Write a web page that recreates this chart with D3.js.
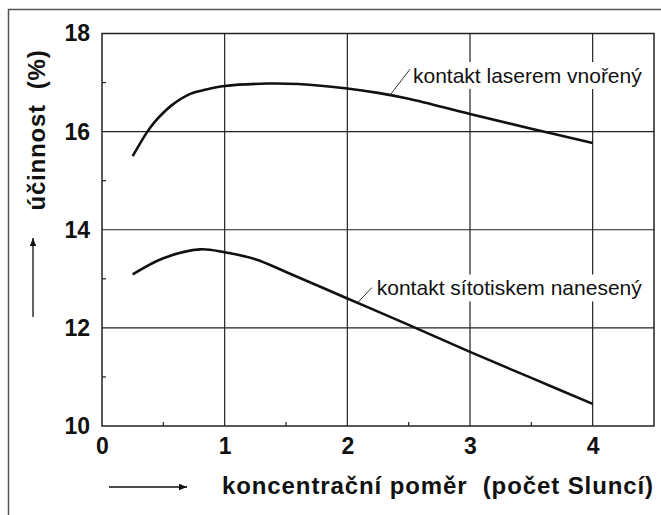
<!DOCTYPE html>
<html>
<head>
<meta charset="utf-8">
<script src="https://cdn.jsdelivr.net/npm/d3@7"></script>
<style>
  body { margin: 0; background: #fff; }
  svg { display: block; font-family: "Liberation Sans", Arial, sans-serif; }
</style>
</head>
<body>
<svg width="661" height="515"></svg>
<script>
// data
var concentration = [0.25, 0.37, 0.43, 0.57, 0.72, 0.85, 1.0, 1.35, 1.6, 2.0, 2.25, 2.5, 3.0, 3.5, 4.0];
var laserBuried   = [15.5, 16.0, 16.2, 16.54, 16.77, 16.86, 16.93, 16.98, 16.97, 16.88, 16.79, 16.67, 16.36, 16.06, 15.77];

var concentration2 = [0.25, 0.5, 0.8, 1.0, 1.25, 1.5, 2.0, 2.5, 3.0, 3.5, 4.0];
var screenPrinted  = [13.09, 13.42, 13.6, 13.54, 13.4, 13.14, 12.6, 12.06, 11.51, 10.98, 10.45];

var xTicks = [0, 1, 2, 3, 4];
var yTicks = [10, 12, 14, 16, 18];
var xMinor = [0.5, 1.5, 2.5, 3.5];
var yMinor = [11, 13, 15, 17];

var labels = ["kontakt laserem vnořený", "kontakt sítotiskem nanesený"];
var labelAt = [[2.535, 16.99], [2.24, 12.66]];
var leaders = [[[2.35, 16.75], [2.51, 17.27]], [[2.09, 12.53], [2.2, 12.82]]];

var svg = d3.select("svg");
var pLeft = 102, pRight = 654, pTop = 33.5, pBottom = 426;

var x = d3.scaleLinear().domain([0, 4.5]).range([pLeft, pRight]);
var y = d3.scaleLinear().domain([10, 18]).range([pBottom, pTop]);

// outer frame (runs off the picture on the right and bottom)
svg.append("rect")
  .attr("x", 8.5).attr("y", 9.5).attr("width", 700).attr("height", 600)
  .attr("fill", "none").attr("stroke", "#555").attr("stroke-width", 1.5);

// grid
svg.append("g").selectAll("line").data(xTicks.slice(1)).enter().append("line")
  .attr("x1", d => x(d)).attr("x2", d => x(d))
  .attr("y1", pTop).attr("y2", pBottom)
  .attr("stroke", "#222").attr("stroke-width", 1.2);
svg.append("g").selectAll("line").data(yTicks.slice(1, -1)).enter().append("line")
  .attr("x1", pLeft).attr("x2", pRight)
  .attr("y1", d => y(d)).attr("y2", d => y(d))
  .attr("stroke", "#222").attr("stroke-width", 1.2);

// minor ticks inside the frame
svg.append("g").selectAll("line").data(yMinor).enter().append("line")
  .attr("x1", pLeft).attr("x2", pLeft + 4)
  .attr("y1", d => y(d)).attr("y2", d => y(d))
  .attr("stroke", "#222").attr("stroke-width", 1.2);
svg.append("g").selectAll("line").data(xMinor).enter().append("line")
  .attr("x1", d => x(d)).attr("x2", d => x(d))
  .attr("y1", pBottom).attr("y2", pBottom - 4)
  .attr("stroke", "#222").attr("stroke-width", 1.2);

// plot frame
svg.append("rect")
  .attr("x", pLeft).attr("y", pTop).attr("width", pRight - pLeft).attr("height", pBottom - pTop)
  .attr("fill", "none").attr("stroke", "#222").attr("stroke-width", 1.5);

// axes (labels only)
var xAxis = svg.append("g")
  .attr("transform", "translate(0," + pBottom + ")")
  .call(d3.axisBottom(x).tickValues(xTicks).tickSize(0).tickPadding(12).tickFormat(d3.format("d")));
var yAxis = svg.append("g")
  .attr("transform", "translate(" + pLeft + ",0)")
  .call(d3.axisLeft(y).tickValues(yTicks).tickSize(0).tickPadding(12).tickFormat(d3.format("d")));
[xAxis, yAxis].forEach(function (g) {
  g.select(".domain").remove();
  g.selectAll("text")
    .attr("fill", "#111")
    .style("font-family", "'Liberation Sans', Arial, sans-serif")
    .style("font-size", "23px").style("font-weight", "bold");
});

// curves
var line = d3.line().curve(d3.curveCatmullRom.alpha(0.5))
  .x(d => x(d[0])).y(d => y(d[1]));
svg.append("path")
  .datum(d3.zip(concentration, laserBuried))
  .attr("d", line).attr("fill", "none").attr("stroke", "#111").attr("stroke-width", 2.6);
svg.append("path")
  .datum(d3.zip(concentration2, screenPrinted))
  .attr("d", line).attr("fill", "none").attr("stroke", "#111").attr("stroke-width", 2.6);

// curve labels on white boxes
labels.forEach(function (txt, i) {
  var g = svg.append("g");
  var t = g.append("text")
    .attr("x", x(labelAt[i][0])).attr("y", y(labelAt[i][1]))
    .attr("font-size", 21).attr("fill", "#111").text(txt);
  var b = t.node().getBBox();
  g.insert("rect", "text")
    .attr("x", b.x - 4).attr("y", b.y - 2).attr("width", b.width + 6).attr("height", b.height + 4)
    .attr("fill", "#fff");
  svg.append("line")
    .attr("x1", x(leaders[i][0][0])).attr("y1", y(leaders[i][0][1]))
    .attr("x2", x(leaders[i][1][0])).attr("y2", y(leaders[i][1][1]))
    .attr("stroke", "#333").attr("stroke-width", 1);
});

// axis titles
svg.append("text")
  .attr("transform", "translate(45,130) rotate(-90)")
  .attr("text-anchor", "middle")
  .attr("font-size", 24).attr("font-weight", "bold").attr("fill", "#111")
  .attr("letter-spacing", 0.8)
  .style("white-space", "pre")
  .text("účinnost  (%)");
svg.append("text")
  .attr("x", 222).attr("y", 494)
  .attr("font-size", 24).attr("font-weight", "bold").attr("fill", "#111")
  .attr("letter-spacing", 0.9)
  .style("white-space", "pre")
  .text("koncentrační poměr  (počet Sluncí)");

// arrows next to the titles
svg.append("defs").append("marker")
  .attr("id", "head").attr("viewBox", "0 0 10 10")
  .attr("refX", 10).attr("refY", 5)
  .attr("markerWidth", 8).attr("markerHeight", 8).attr("markerUnits", "userSpaceOnUse")
  .attr("orient", "auto")
  .append("path").attr("d", "M0,1L10,5L0,9Z").attr("fill", "#111");
svg.append("line")
  .attr("x1", 33).attr("y1", 317).attr("x2", 33).attr("y2", 238)
  .attr("stroke", "#111").attr("stroke-width", 1.3).attr("marker-end", "url(#head)");
svg.append("line")
  .attr("x1", 109).attr("y1", 487).attr("x2", 187).attr("y2", 487)
  .attr("stroke", "#111").attr("stroke-width", 1.3).attr("marker-end", "url(#head)");
</script>
</body>
</html>
